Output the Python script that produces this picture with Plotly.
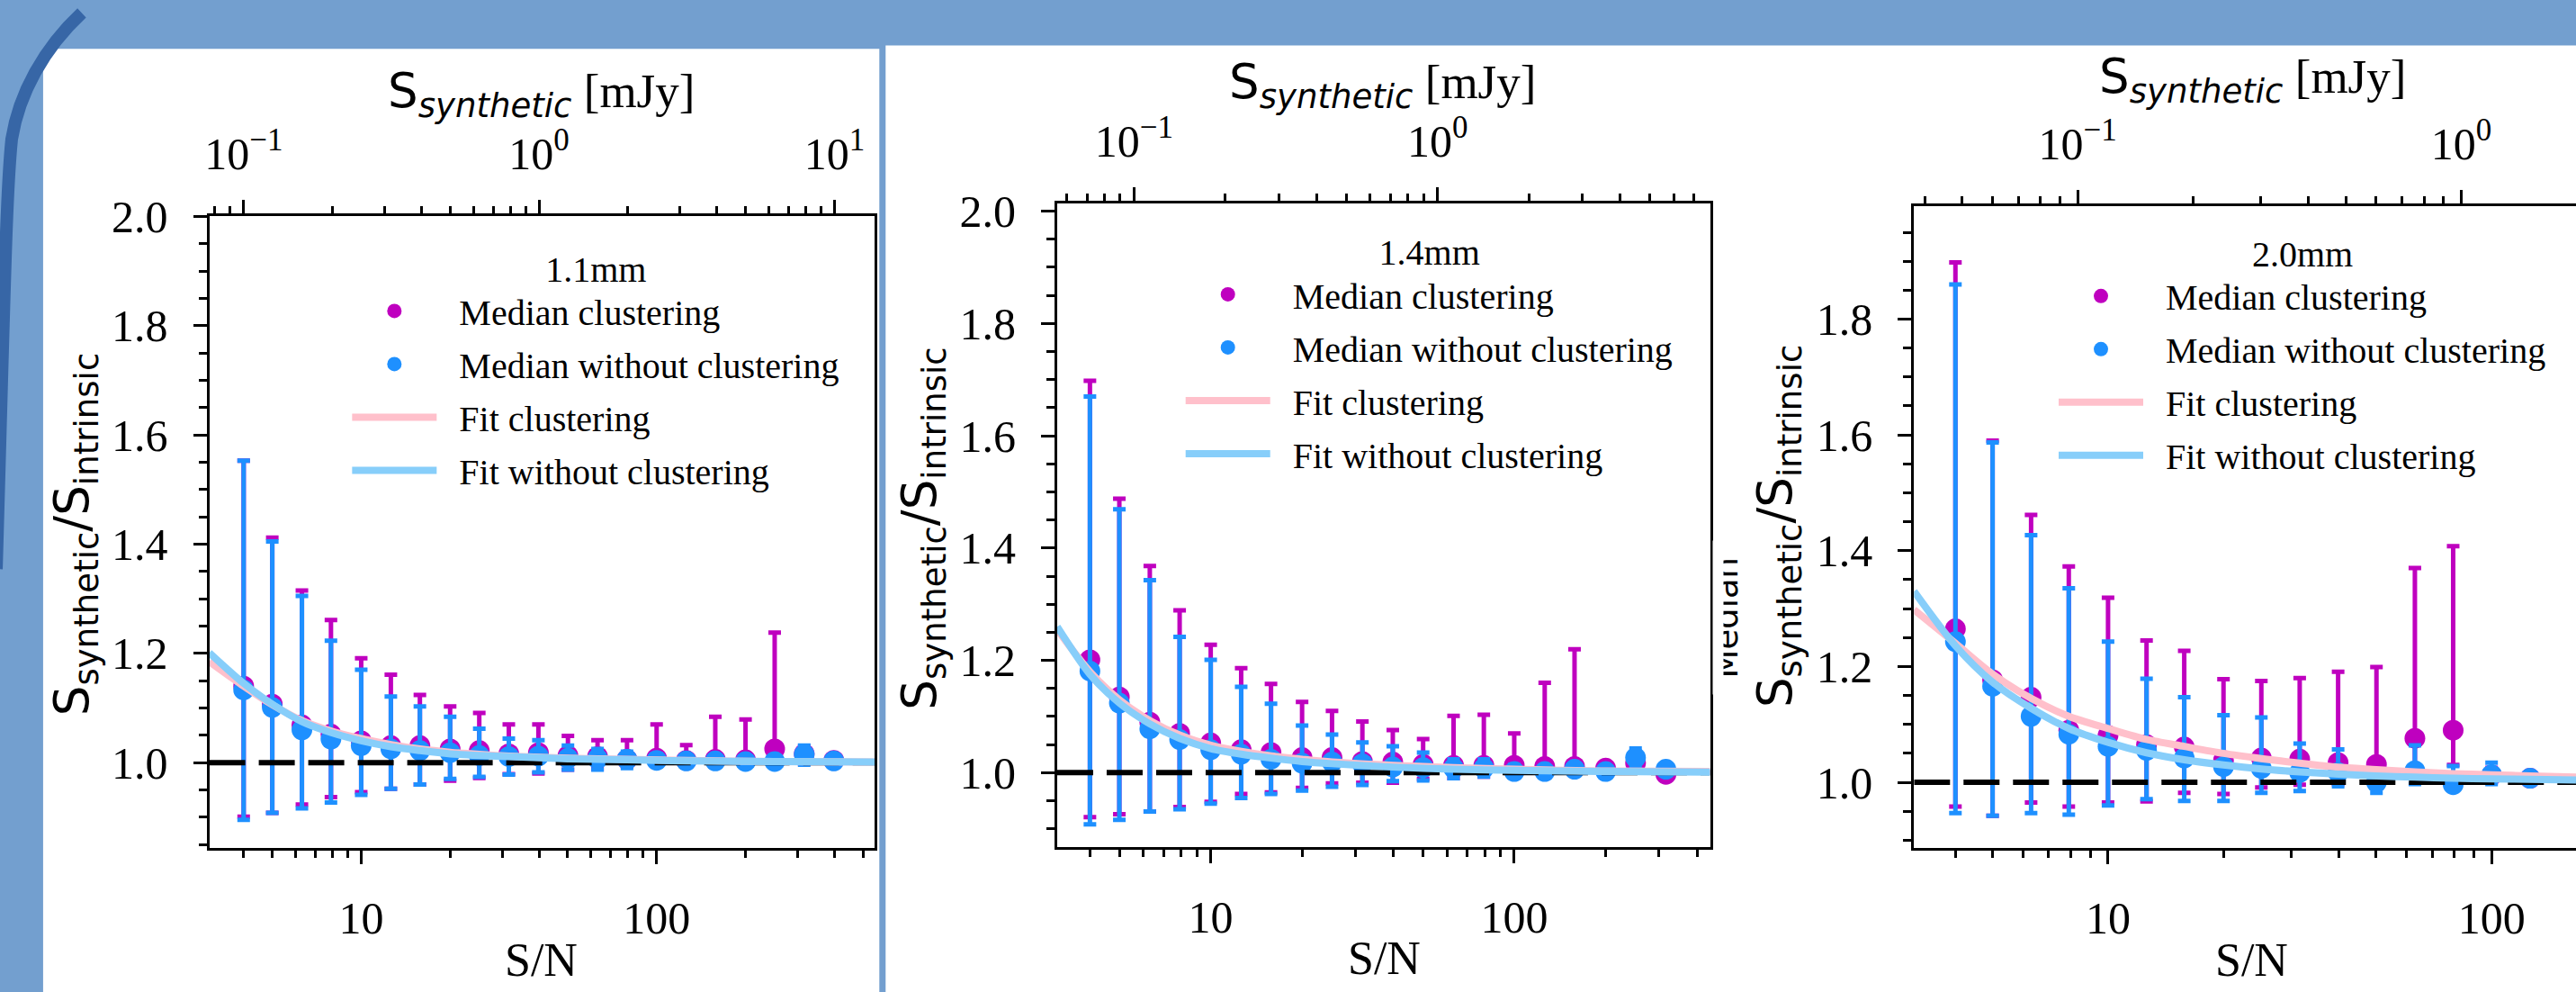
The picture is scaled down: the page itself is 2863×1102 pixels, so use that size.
import math
import plotly.graph_objects as go

W, H = 2863, 1102

# ---------------- data ----------------
sn_bins = [4.0, 5.0, 6.3, 7.9, 10.0, 12.6, 15.8, 20.0, 25.1, 31.6, 39.8,
           50.1, 63.1, 79.4, 100.0, 126.0, 158.0, 200.0, 251.0, 316.0, 398.0]

# 1.1 mm
med_clu_11 = [1.140, 1.107, 1.069, 1.052, 1.040, 1.031, 1.031, 1.025, 1.022, 1.016, 1.018,
              1.013, 1.011, 1.006, 1.008, 1.004, 1.006, 1.005, 1.025, 1.016, 1.004]
hi_clu_11 = [1.553, 1.412, 1.315, 1.261, 1.191, 1.161, 1.124, 1.103, 1.091, 1.070, 1.070,
             1.049, 1.041, 1.041, 1.070, 1.032, 1.084, 1.079, 1.238, 1.030, 1.008]
lo_clu_11 = [0.901, 0.908, 0.923, 0.937, 0.946, 0.952, 0.960, 0.967, 0.972, 0.979, 0.980,
             0.987, 0.988, 0.993, 0.994, 0.995, 0.996, 0.997, 0.998, 0.998, 0.999]
med_noc_11 = [1.133, 1.101, 1.060, 1.043, 1.031, 1.025, 1.022, 1.018, 1.013, 1.011, 1.012,
              1.008, 1.007, 1.006, 1.004, 1.003, 1.003, 1.002, 1.002, 1.015, 1.003]
hi_noc_11 = [1.553, 1.405, 1.305, 1.223, 1.170, 1.121, 1.103, 1.084, 1.062, 1.044, 1.041,
             1.031, 1.025, 1.020, 1.016, 1.013, 1.012, 1.010, 1.010, 1.031, 1.008]
lo_noc_11 = [0.895, 0.908, 0.916, 0.927, 0.941, 0.952, 0.960, 0.970, 0.974, 0.978, 0.982,
             0.987, 0.987, 0.990, 0.994, 0.995, 0.996, 0.997, 0.997, 0.996, 0.998]
fit_sn_11 = [3.06, 4.0, 5.0, 6.3, 7.9, 10.0, 12.6, 15.8, 20.0, 25.1, 31.6, 50.1, 79.4, 126.0, 251.0, 548.0]
fit_clu_11 = [1.185, 1.140, 1.106, 1.077, 1.058, 1.044, 1.033, 1.025, 1.019, 1.015, 1.012, 1.008, 1.006, 1.004, 1.002, 1.001]
fit_noc_11 = [1.201, 1.145, 1.107, 1.075, 1.055, 1.040, 1.029, 1.022, 1.016, 1.013, 1.011, 1.007, 1.005, 1.003, 1.002, 1.001]

# 1.4 mm
med_clu_14 = [1.201, 1.135, 1.090, 1.070, 1.053, 1.041, 1.036, 1.027, 1.027, 1.020,
              1.019, 1.015, 1.013, 1.013, 1.013, 1.011, 1.011, 1.008, 1.017, 0.997]
hi_clu_14 = [1.698, 1.488, 1.368, 1.289, 1.228, 1.186, 1.158, 1.126, 1.110, 1.091,
             1.076, 1.060, 1.101, 1.103, 1.070, 1.160, 1.220, 1.012, 1.025, 1.000]
lo_clu_14 = [0.921, 0.926, 0.931, 0.939, 0.948, 0.962, 0.965, 0.973, 0.981, 0.982,
             0.982, 0.989, 0.990, 0.993, 0.995, 0.996, 0.997, 0.998, 1.008, 0.994]
med_noc_14 = [1.181, 1.124, 1.078, 1.059, 1.041, 1.033, 1.024, 1.017, 1.019, 1.016,
              1.010, 1.009, 1.008, 1.008, 1.002, 1.002, 1.006, 1.002, 1.027, 1.006]
hi_noc_14 = [1.670, 1.469, 1.343, 1.242, 1.201, 1.153, 1.123, 1.084, 1.068, 1.054,
             1.047, 1.036, 1.024, 1.024, 1.014, 1.012, 1.010, 1.008, 1.043, 1.008]
lo_noc_14 = [0.908, 0.916, 0.931, 0.935, 0.945, 0.955, 0.962, 0.968, 0.975, 0.978,
             0.985, 0.986, 0.990, 0.993, 0.995, 0.996, 0.997, 0.998, 1.012, 1.003]
fit_sn_14 = [3.12, 4.0, 5.0, 6.3, 7.9, 10.0, 12.6, 15.8, 20.0, 25.1, 39.8, 63.1, 100.0, 200.0, 442.0]
fit_clu_14 = [1.255, 1.180, 1.130, 1.093, 1.067, 1.049, 1.038, 1.030, 1.024, 1.019, 1.013, 1.009, 1.006, 1.003, 1.002]
fit_noc_14 = [1.260, 1.175, 1.124, 1.087, 1.061, 1.043, 1.033, 1.026, 1.020, 1.016, 1.010, 1.006, 1.004, 1.002, 1.001]

# 2.0 mm
med_clu_20 = [1.265, 1.177, 1.147, 1.090, 1.081, 1.065, 1.061, 1.038, 1.042, 1.040,
              1.034, 1.031, 1.076, 1.090, 1.012, 1.007]
hi_clu_20 = [1.898, 1.590, 1.462, 1.373, 1.319, 1.245, 1.227, 1.178, 1.175, 1.180,
             1.191, 1.199, 1.370, 1.408, 1.025, 1.012]
lo_clu_20 = [0.958, 0.942, 0.965, 0.958, 0.965, 0.967, 0.982, 0.980, 0.991, 0.996,
             0.997, 0.992, 1.025, 1.030, 1.000, 1.002]
med_noc_20 = [1.243, 1.166, 1.114, 1.083, 1.062, 1.055, 1.042, 1.027, 1.024, 1.017,
              1.017, 1.000, 1.020, 0.996, 1.013, 1.007]
hi_noc_20 = [1.860, 1.587, 1.427, 1.335, 1.243, 1.179, 1.147, 1.116, 1.112, 1.067,
             1.057, 1.014, 1.064, 1.028, 1.034, 1.012]
lo_noc_20 = [0.947, 0.942, 0.947, 0.944, 0.960, 0.971, 0.968, 0.968, 0.982, 0.985,
             0.993, 0.982, 0.997, 0.990, 0.997, 1.002]
fit_sn_20 = [3.12, 4.0, 5.0, 6.3, 7.9, 10.0, 12.6, 15.8, 20.0, 25.1, 31.6, 39.8, 50.1, 63.1, 79.4, 100.0, 126.0, 166.0]
fit_clu_20 = [1.298, 1.240, 1.187, 1.145, 1.114, 1.093, 1.074, 1.062, 1.050, 1.041, 1.033, 1.026, 1.022, 1.018, 1.015, 1.013, 1.011, 1.009]
fit_noc_20 = [1.330, 1.236, 1.173, 1.128, 1.093, 1.069, 1.051, 1.039, 1.030, 1.023, 1.018, 1.014, 1.011, 1.009, 1.007, 1.006, 1.005, 1.004]

# flux (mJy) corresponding to S/N = 1 in each map (top axis conversion)
rms_11, rms_14, rms_20 = 0.0250, 0.0179, 0.0120
ref_level = 1.0

band_labels = ["1.1mm", "1.4mm", "2.0mm"]
legend_names = ["Median clustering", "Median without clustering", "Fit clustering", "Fit without clustering"]
bottom_ticks = [10, 100]
top_ticks = [0.1, 1, 10]
top_ticktext = ["10<sup>−1</sup>", "10<sup>0</sup>", "10<sup>1</sup>"]

# ---------------- style / layout ----------------
C_CLU = "#BF00BF"
C_NOC = "#1E90FF"
C_FCLU = "#FFC0CB"
C_FNOC = "#87CEFA"
BG_BLUE = "#739FCF"
ARC_BLUE = "#3766A6"
SERIF = "Liberation Serif"
SANS = "DejaVu Sans"
PAD = "\u00a0\u00a0"

def fx(px):
    return px / W

def fy(py):
    return 1 - py / H

panels = [
    dict(sn=sn_bins[:21], mc=med_clu_11, hc=hi_clu_11, lc=lo_clu_11, mn=med_noc_11, hn=hi_noc_11, ln=lo_noc_11,
         fsn=fit_sn_11, fc=fit_clu_11, fn=fit_noc_11, rms=rms_11,
         xlim=[3.06, 548.0], ylim=[0.8434, 2.0], xdom=[228, 969], ydom=[218, 938], mirror=True,
         ylab=(78, 580), toplab=(598, 78), xlab=(598, 1066), leg=(382, 239)),
    dict(sn=sn_bins[:20], mc=med_clu_14, hc=hi_clu_14, lc=lo_clu_14, mn=med_noc_14, hn=hi_noc_14, ln=lo_noc_14,
         fsn=fit_sn_14, fc=fit_clu_14, fn=fit_noc_14, rms=rms_14,
         xlim=[3.12, 442.0], ylim=[0.868, 2.014], xdom=[1172, 1899], ydom=[203, 936.5], mirror=True,
         ylab=(1022, 574), toplab=(1534, 68), xlab=(1536, 1064), leg=(1310, 220)),
    dict(sn=sn_bins[:16], mc=med_clu_20, hc=hi_clu_20, lc=lo_clu_20, mn=med_noc_20, hn=hi_noc_20, ln=lo_noc_20,
         fsn=fit_sn_20, fc=fit_clu_20, fn=fit_noc_20, rms=rms_20,
         xlim=[3.12, 166.0], ylim=[0.8868, 1.9955], xdom=[2126, 2863], ydom=[206, 937.7], mirror=False,
         ylab=(1975, 571), toplab=(2503, 62), xlab=(2502, 1066), leg=(2282, 222)),
]

fig = go.Figure()
layout = {}
annotations = []

def minor_vals(lo, hi):
    vals = []
    e = math.floor(math.log10(lo)) - 1
    while 10 ** e <= hi * 10:
        for m in range(2, 10):
            v = m * 10 ** e
            if lo <= v <= hi:
                vals.append(v)
        e += 1
    return vals

for i, p in enumerate(panels):
    k = i + 1
    xb = "x" if k == 1 else f"x{k}"
    yb = "y" if k == 1 else f"y{k}"
    xt = f"x{k + 3}"
    leg = "legend" if k == 1 else f"legend{k}"
    sfx = "" if k == 1 else str(k)

    err_c = dict(type="data", symmetric=False,
                 array=[h - m for h, m in zip(p["hc"], p["mc"])],
                 arrayminus=[m - l for m, l in zip(p["mc"], p["lc"])],
                 color=C_CLU, thickness=5, width=7)
    err_n = dict(type="data", symmetric=False,
                 array=[h - m for h, m in zip(p["hn"], p["mn"])],
                 arrayminus=[m - l for m, l in zip(p["mn"], p["ln"])],
                 color=C_NOC, thickness=5, width=7)

    fig.add_trace(go.Scatter(x=p["sn"], y=p["mc"], mode="markers", name=PAD + legend_names[0],
                             marker=dict(color=C_CLU, size=23), error_y=err_c,
                             xaxis=xb, yaxis=yb, legend=leg, legendgroup=f"p{k}a"))
    fig.add_trace(go.Scatter(x=p["sn"], y=p["mn"], mode="markers", name=PAD + legend_names[1],
                             marker=dict(color=C_NOC, size=23), error_y=err_n,
                             xaxis=xb, yaxis=yb, legend=leg, legendgroup=f"p{k}b"))
    fig.add_trace(go.Scatter(x=p["xlim"], y=[ref_level, ref_level], mode="lines",
                             line=dict(color="black", width=6, dash="40px,15px"),
                             showlegend=False, hoverinfo="skip", xaxis=xb, yaxis=yb))
    fig.add_trace(go.Scatter(x=p["fsn"], y=p["fc"], mode="lines", name=PAD + legend_names[2],
                             line=dict(color=C_FCLU, width=8, shape="spline", smoothing=0.8),
                             xaxis=xb, yaxis=yb, legend=leg, legendgroup=f"p{k}c"))
    fig.add_trace(go.Scatter(x=p["fsn"], y=p["fn"], mode="lines", name=PAD + legend_names[3],
                             line=dict(color=C_FNOC, width=8, shape="spline", smoothing=0.8),
                             xaxis=xb, yaxis=yb, legend=leg, legendgroup=f"p{k}d"))
    # invisible trace carrying the flux axis
    fig.add_trace(go.Scatter(x=[s * p["rms"] for s in p["sn"]], y=p["mn"], mode="markers",
                             marker=dict(opacity=0), showlegend=False, hoverinfo="skip",
                             xaxis=xt, yaxis=yb))

    tickfont = dict(family=SERIF, size=50, color="black")
    layout[f"xaxis{sfx}"] = dict(
        domain=[fx(p["xdom"][0]), fx(p["xdom"][1])], anchor=yb, type="log",
        range=[math.log10(p["xlim"][0]), math.log10(p["xlim"][1])],
        showline=True, linecolor="black", linewidth=3, mirror=False,
        ticks="outside", ticklen=15, tickwidth=3, tickcolor="black",
        tickmode="array", tickvals=bottom_ticks, ticktext=[str(t) for t in bottom_ticks],
        tickfont=tickfont, ticklabelstandoff=17,
        minor=dict(tickmode="array", tickvals=minor_vals(*p["xlim"]), ticks="outside",
                   ticklen=8, tickwidth=2.5, tickcolor="black", showgrid=False),
        showgrid=False, zeroline=False)
    tlo, thi = p["xlim"][0] * p["rms"], p["xlim"][1] * p["rms"]
    layout[f"xaxis{k + 3}"] = dict(
        overlaying=xb, anchor=yb, side="top", type="log",
        range=[math.log10(tlo), math.log10(thi)],
        showline=True, linecolor="black", linewidth=3,
        ticks="outside", ticklen=15, tickwidth=3, tickcolor="black",
        tickmode="array", tickvals=top_ticks, ticktext=top_ticktext,
        tickfont=tickfont, ticklabelstandoff=14,
        minor=dict(tickmode="array", tickvals=minor_vals(tlo, thi), ticks="outside",
                   ticklen=8, tickwidth=2.5, tickcolor="black", showgrid=False),
        showgrid=False, zeroline=False)
    layout[f"yaxis{sfx}"] = dict(
        domain=[fy(p["ydom"][1]), fy(p["ydom"][0])], anchor=xb,
        range=p["ylim"], showline=True, linecolor="black", linewidth=3, mirror=p["mirror"],
        ticks="outside", ticklen=15, tickwidth=3, tickcolor="black",
        tick0=0, dtick=0.2, tickformat=".1f", tickfont=tickfont, ticklabelstandoff=18,
        minor=dict(tick0=0, dtick=0.05, ticks="outside", ticklen=9, tickwidth=2.5,
                   tickcolor="black", showgrid=False),
        showgrid=False, zeroline=False)
    layout[leg] = dict(
        title=dict(text=band_labels[i], side="top center", font=dict(family=SERIF, size=40, color="black")),
        font=dict(family=SERIF, size=40, color="black"),
        x=fx(p["leg"][0]), y=fy(p["leg"][1]), xanchor="left", yanchor="top",
        bgcolor="rgba(0,0,0,0)", borderwidth=0, itemwidth=94, tracegroupgap=4)

    annotations.append(dict(
        text="S<sub>synthetic</sub>/S<sub>intrinsic</sub>", textangle=-90,
        font=dict(family=SANS, size=53, color="black"),
        x=fx(p["ylab"][0]), y=fy(p["ylab"][1]), xref="paper", yref="paper",
        xanchor="center", yanchor="middle", showarrow=False))
    annotations.append(dict(
        text=(f'<span style="font-family:{SANS}">S</span>'
              f'<sub><span style="font-family:{SANS}"><i>synthetic</i></span></sub> [mJy]'),
        font=dict(family=SERIF, size=53, color="black"),
        x=fx(p["toplab"][0]), y=fy(p["toplab"][1]), xref="paper", yref="paper",
        xanchor="center", yanchor="middle", showarrow=False))
    annotations.append(dict(
        text="S/N", font=dict(family=SERIF, size=52, color="black"),
        x=fx(p["xlab"][0]), y=fy(p["xlab"][1]), xref="paper", yref="paper",
        xanchor="center", yanchor="middle", showarrow=False))

# clipped fragment of an underlying label visible between the panels
annotations.append(dict(text="Median", textangle=-90, font=dict(family=SANS, size=37, color="black"),
                        x=fx(1917), y=fy(675), xref="paper", yref="paper",
                        xanchor="center", yanchor="middle", showarrow=False))
annotations.append(dict(text="\u00a0", bgcolor="white", width=11, height=170, borderpad=0,
                        font=dict(size=10), x=fx(1908), y=fy(675), xref="paper", yref="paper",
                        xanchor="center", yanchor="middle", showarrow=False))

def P(x, y):
    return f"{fx(x):.5f},{fy(y):.5f}"

shapes = [
    dict(type="rect", xref="paper", yref="paper", x0=fx(43), x1=fx(974), y0=0, y1=fy(27),
         fillcolor="white", line=dict(width=0), layer="below"),
    dict(type="rect", xref="paper", yref="paper", x0=fx(981), x1=1, y0=0, y1=fy(23),
         fillcolor="white", line=dict(width=0), layer="below"),
    dict(type="path", xref="paper", yref="paper",
         path=f"M{P(86, -14)} C{P(44, 26)} {P(16, 78)} {P(8, 130)} C{P(2, 190)} {P(0, 300)} {P(-9, 620)}",
         line=dict(color=ARC_BLUE, width=14), fillcolor="rgba(0,0,0,0)", layer="below"),
]

fig.update_layout(
    width=W, height=H, margin=dict(l=0, r=0, t=0, b=0),
    paper_bgcolor=BG_BLUE, plot_bgcolor="rgba(0,0,0,0)",
    annotations=annotations, shapes=shapes, **layout)

fig.write_html("out.html", config={"displayModeBar": False},
               post_script="document.body.style.margin='0';document.body.style.overflow='hidden';")
